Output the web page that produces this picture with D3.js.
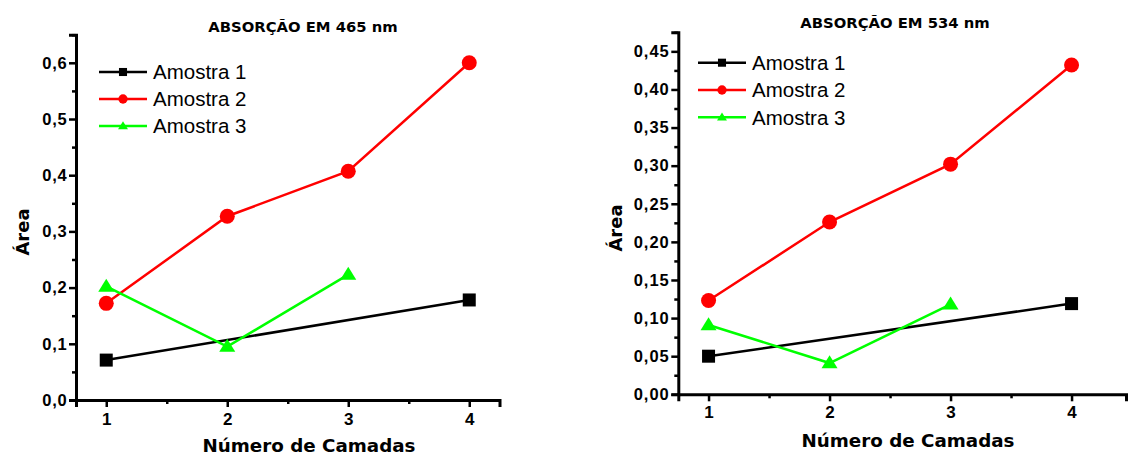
<!DOCTYPE html>
<html>
<head>
<meta charset="utf-8">
<script src="https://cdn.jsdelivr.net/npm/d3@7"></script>
<style>
  body { margin: 0; background: #fff; }
  svg { display: block; }
  .tick text { font-family: "Liberation Sans", Arial, sans-serif; font-weight: bold; }
</style>
</head>
<body>
<svg id="chart" width="1128" height="455"></svg>
<script>
// Categories (number of layers) and series values
const camadas = [1, 2, 3, 4];
const seriesNames = ["Amostra 1", "Amostra 2", "Amostra 3"];

// Absorption at 465 nm
const abs465_amostra1 = [0.071, null, null, 0.178];
const abs465_amostra2 = [0.172, 0.327, 0.407, 0.600];
const abs465_amostra3 = [0.202, 0.095, 0.223, null];
const yTicks465 = [0, 0.1, 0.2, 0.3, 0.4, 0.5, 0.6];

// Absorption at 534 nm
const abs534_amostra1 = [0.050, null, null, 0.119];
const abs534_amostra2 = [0.123, 0.226, 0.302, 0.432];
const abs534_amostra3 = [0.091, 0.041, 0.118, null];
const yTicks534 = [0, 0.05, 0.10, 0.15, 0.20, 0.25, 0.30, 0.35, 0.40, 0.45];

const colors = ["#000000", "#ff0000", "#00ff00"];
const fmt = d3.formatLocale({ decimal: ",", thousands: ".", grouping: [3], currency: ["", ""] });

const svg = d3.select('#chart');

function drawPanel(p) {
    const g = svg.append('g');
    const x = d3.scaleLinear().domain(p.xDomain).range(p.xRange);
    const y = d3.scaleLinear().domain(p.yDomain).range(p.yRange);

    // Minor ticks
    g.append('g')
        .attr('transform', `translate(${p.xRange[0]},0)`)
        .call(d3.axisLeft(y).tickValues(p.yMinor).tickSize(4).tickFormat(''))
        .call(a => a.select('.domain').remove())
        .call(a => a.selectAll('line').attr('stroke-width', 2.5));
    g.append('g')
        .attr('transform', `translate(0,${p.yRange[0]})`)
        .call(d3.axisBottom(x).tickValues([1.5, 2.5, 3.5]).tickSize(4).tickFormat(''))
        .call(a => a.select('.domain').remove())
        .call(a => a.selectAll('line').attr('stroke-width', 2.5));

    // Major axes
    g.append('g')
        .attr('transform', `translate(${p.xRange[0]},0)`)
        .call(d3.axisLeft(y).tickValues(p.yTicks).tickSize(7).tickPadding(1.5)
            .tickFormat(fmt.format(p.yFormat)))
        .call(a => a.select('.domain').attr('stroke-width', 3))
        .call(a => a.selectAll('line').attr('stroke-width', 2.5))
        .call(a => a.selectAll('text').attr('font-size', 16.5).attr('letter-spacing', p.letterSpacing).attr('fill', '#000'));
    g.append('g')
        .attr('transform', `translate(0,${p.yRange[0]})`)
        .call(d3.axisBottom(x).tickValues(camadas).tickSize(7).tickPadding(p.xTickPad).tickFormat(d3.format('d')))
        .call(a => a.select('.domain').attr('stroke-width', 3))
        .call(a => a.selectAll('line').attr('stroke-width', 2.5))
        .call(a => a.selectAll('text').attr('font-size', 17).attr('fill', '#000'));

    // Title and axis labels
    g.append('text')
        .attr('x', p.titleX).attr('y', p.titleY)
        .attr('text-anchor', 'middle')
        .attr('font-family', '"DejaVu Sans", Verdana, sans-serif')
        .attr('font-weight', 'bold').attr('font-size', 14.8)
        .text(p.title);
    g.append('text')
        .attr('x', p.xLabelX).attr('y', p.xLabelY)
        .attr('text-anchor', 'middle')
        .attr('font-family', '"DejaVu Sans", Verdana, sans-serif')
        .attr('font-weight', 'bold').attr('font-size', 18.3)
        .text('Número de Camadas');
    g.append('text')
        .attr('transform', `translate(${p.yLabelX},${p.yLabelY}) rotate(-90)`)
        .attr('text-anchor', 'middle')
        .attr('font-family', '"DejaVu Sans", Verdana, sans-serif')
        .attr('font-weight', 'bold').attr('font-size', 18)
        .text('Área');

    // Lines and markers
    const line = d3.line().x(d => x(d.x)).y(d => y(d.y));
    p.series.forEach((vals, i) => {
        const pts = camadas.map((c, j) => ({ x: c, y: vals[j] })).filter(d => d.y !== null);
        g.append('path')
            .attr('d', line(pts))
            .attr('fill', 'none')
            .attr('stroke', colors[i])
            .attr('stroke-width', 2.5);
        drawMarkers(g, pts.map(d => [x(d.x), y(d.y)]), i, 1);
    });

    // Legend
    seriesNames.forEach((name, i) => {
        const ly = p.legendY + i * p.legendStep;
        g.append('line')
            .attr('x1', p.legendX).attr('x2', p.legendX + 48)
            .attr('y1', ly).attr('y2', ly)
            .attr('stroke', colors[i]).attr('stroke-width', 2.5);
        drawMarkers(g, [[p.legendX + 24, ly]], i, 0.62);
        g.append('text')
            .attr('x', p.legendX + 54).attr('y', ly)
            .attr('dy', '0.36em')
            .attr('font-family', '"Liberation Sans", Arial, sans-serif')
            .attr('font-size', 20.5)
            .text(name);
    });
}

function drawMarkers(g, pts, i, s) {
    pts.forEach(([px, py]) => {
        if (i === 0) {
            g.append('rect')
                .attr('x', px - 6.5 * s).attr('y', py - 6.5 * s)
                .attr('width', 13 * s).attr('height', 13 * s)
                .attr('fill', colors[i]);
        } else if (i === 1) {
            g.append('circle')
                .attr('cx', px).attr('cy', py).attr('r', 7.5 * s)
                .attr('fill', colors[i]);
        } else {
            const h = 13 * s, w = 8 * s;
            g.append('path')
                .attr('d', `M${px},${py - h * 0.6}L${px + w},${py + h * 0.4}L${px - w},${py + h * 0.4}Z`)
                .attr('fill', colors[i]);
        }
    });
}

drawPanel({
    title: 'ABSORÇÃO EM 465 nm',
    series: [abs465_amostra1, abs465_amostra2, abs465_amostra3],
    xDomain: [0.75, 4.25], xRange: [76, 499.5],
    yDomain: [0, 0.65], yRange: [400, 34.7],
    yTicks: yTicks465, yMinor: [0.05, 0.15, 0.25, 0.35, 0.45, 0.55, 0.65],
    yFormat: '.1f', letterSpacing: 0.8, xTickPad: 6,
    titleX: 303, titleY: 32,
    xLabelX: 309, xLabelY: 452,
    yLabelX: 29, yLabelY: 232,
    legendX: 99, legendY: 72, legendStep: 27
});

drawPanel({
    title: 'ABSORÇÃO EM 534 nm',
    series: [abs534_amostra1, abs534_amostra2, abs534_amostra3],
    xDomain: [0.75, 4.45], xRange: [678.3, 1126],
    yDomain: [0, 0.475], yRange: [394.3, 32.3],
    yTicks: yTicks534, yMinor: d3.range(0.025, 0.48, 0.05),
    yFormat: '.2f', letterSpacing: 1, xTickPad: 5,
    titleX: 895, titleY: 28,
    xLabelX: 908, xLabelY: 447,
    yLabelX: 622, yLabelY: 228,
    legendX: 698, legendY: 62.7, legendStep: 27.3
});
</script>
</body>
</html>
